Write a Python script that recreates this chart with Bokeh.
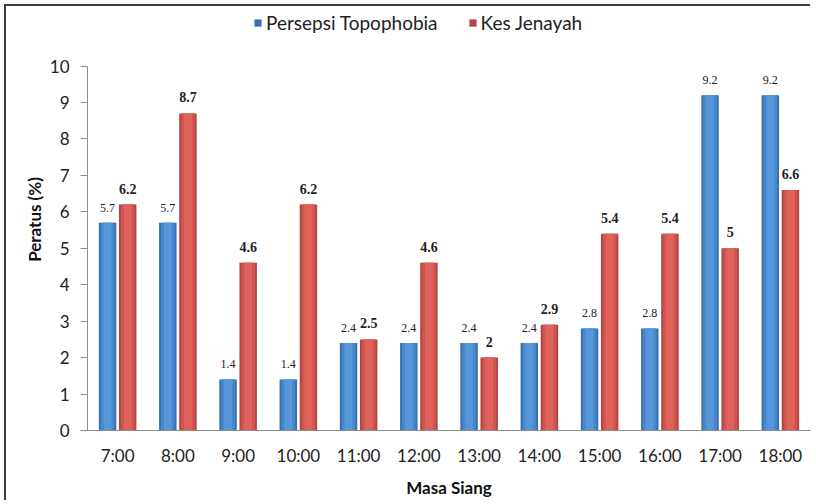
from bokeh.plotting import figure
from bokeh.models import ColumnDataSource, FactorRange, Legend, LegendItem, InlineStyleSheet
from bokeh.transform import dodge
from bokeh.core.properties import value
from bokeh.embed import file_html
from bokeh.resources import INLINE

hours = ["7:00", "8:00", "9:00", "10:00", "11:00", "12:00", "13:00", "14:00",
         "15:00", "16:00", "17:00", "18:00"]
topophobia = [5.7, 5.7, 1.4, 1.4, 2.4, 2.4, 2.4, 2.4, 2.8, 2.8, 9.2, 9.2]
jenayah = [6.2, 8.7, 4.6, 6.2, 2.5, 4.6, 2, 2.9, 5.4, 5.4, 5, 6.6]
y_ticks = list(range(0, 11))
series_names = ["Persepsi Topophobia", "Kes Jenayah"]


def fmt(v):
    return str(int(v)) if float(v).is_integer() else str(v)


src = ColumnDataSource(dict(
    hour=hours, topo=topophobia, jen=jenayah,
    topo_lbl=[fmt(v) for v in topophobia],
    jen_lbl=[fmt(v) for v in jenayah],
))

FONT = "Lato"
W, H = 812, 500
TOP, BOTTOM, LEFT, RIGHT = 8, 69, 87, 2
# y=10 should sit at 65.7px from the top; extend the range so the legend fits in the frame
frame_h = H - TOP - BOTTOM
y_top = 10 * frame_h / (H - BOTTOM - 65.7)

p = figure(width=W, height=H, x_range=FactorRange(factors=hours), y_range=(0, y_top),
           output_backend="svg", toolbar_location=None,
           min_border_left=LEFT, min_border_right=RIGHT, min_border_top=TOP,
           min_border_bottom=BOTTOM)
p.outline_line_color = None
p.xgrid.grid_line_color = None
p.ygrid.grid_line_color = None
p.background_fill_color = "white"
p.border_fill_color = "white"
# chart-area border (left and top edges only, as in the reference)
p.stylesheets = [InlineStyleSheet(css=(
    ":host { position: relative; } "
    ":host::before { content: ''; position: absolute; left: 4px; top: 4px; "
    "width: 2px; height: 496px; background: #3c3c3c; border: none; "
    "pointer-events: none; z-index: 10; } "
    ":host::after { content: ''; position: absolute; left: 4px; top: 4px; "
    "width: 806px; height: 2px; background: #3c3c3c; border: none; "
    "pointer-events: none; z-index: 10; }"
))]

off = 0.167
w = 0.29
blue_layers = [(1.0, "#3a70ae"), (0.78, "#4887ca"), (0.45, "#5597da")]
red_layers = [(1.0, "#b44541"), (0.78, "#d05450"), (0.45, "#df625d")]

blue_r = None
for frac, col in blue_layers:
    r = p.vbar(x=dodge("hour", -off, range=p.x_range), top="topo", width=w * frac,
               source=src, fill_color=col, line_color=None)
    if blue_r is None:
        blue_r = r
red_r = None
for frac, col in red_layers:
    r = p.vbar(x=dodge("hour", off, range=p.x_range), top="jen", width=w * frac,
               source=src, fill_color=col, line_color=None)
    if red_r is None:
        red_r = r

p.text(x=dodge("hour", -off, range=p.x_range), y="topo", text="topo_lbl", source=src,
       text_align="center", text_baseline="bottom", y_offset=-11,
       text_font=value("Liberation Serif"), text_font_size="12px", text_color="#222222")
p.text(x=dodge("hour", off, range=p.x_range), y="jen", text="jen_lbl", source=src,
       text_align="center", text_baseline="bottom", y_offset=-11,
       text_font=value("Liberation Serif"), text_font_size="14px", text_font_style="bold",
       text_color="#222222")

# axes
p.yaxis.ticker = y_ticks
p.yaxis.bounds = (0, 10)
p.yaxis.axis_label = "Peratus (%)"
p.xaxis.axis_label = "Masa Siang"
for ax in (p.xaxis, p.yaxis):
    ax.axis_line_color = "#8c8c8c"
    ax.major_tick_line_color = "#8c8c8c"
    ax.minor_tick_line_color = None
    ax.major_label_text_font = FONT
    ax.major_label_text_font_size = "17px"
    ax.major_label_text_color = "#222222"
    ax.axis_label_text_font = FONT
    ax.axis_label_text_font_size = "17px"
    ax.axis_label_text_font_style = "bold"
    ax.axis_label_text_color = "#111111"
p.yaxis.major_tick_out = 7
p.yaxis.major_tick_in = 0
p.yaxis.major_label_standoff = 11
p.yaxis.axis_label_standoff = 2
p.xaxis.major_tick_out = 0
p.xaxis.major_tick_in = 0
p.xaxis.major_label_standoff = 14
p.xaxis.axis_label_standoff = 8

legend = Legend(items=[LegendItem(label=series_names[0], renderers=[blue_r]),
                       LegendItem(label=series_names[1], renderers=[red_r])],
                orientation="horizontal", location=(253 - LEFT, H - BOTTOM - 35))
legend.label_text_font = FONT
legend.label_text_font_size = "19px"
legend.label_text_color = "#222222"
legend.glyph_width = 9
legend.glyph_height = 9
legend.label_height = 20
legend.label_standoff = 4
legend.spacing = 30
legend.padding = 0
legend.margin = 0
legend.border_line_color = None
legend.background_fill_alpha = 0
p.add_layout(legend, "center")

open("out.html", "w").write(file_html(p, INLINE))
